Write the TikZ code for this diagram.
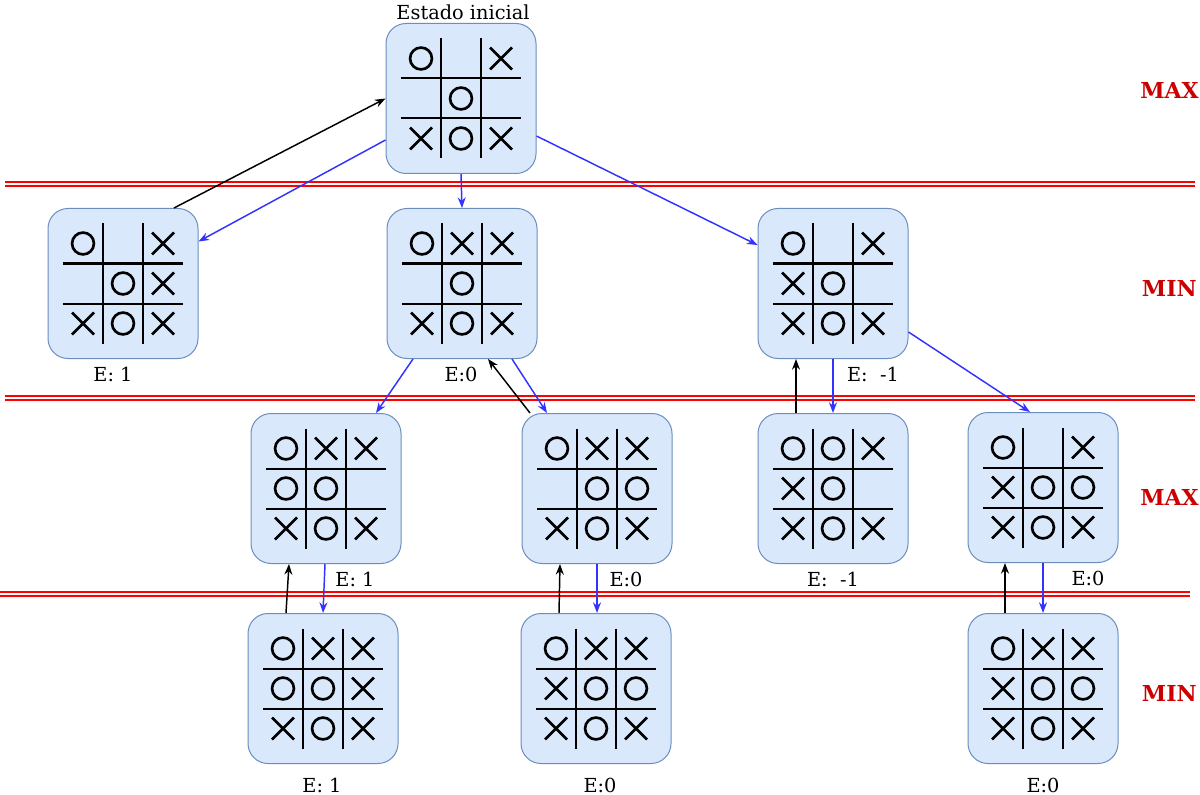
\documentclass[tikz,border=0pt]{standalone}
\usepackage{fontspec}
\setmainfont{DejaVu Serif}
\usetikzlibrary{arrows.meta}

\definecolor{cajafondo}{HTML}{DAE8FC}
\definecolor{cajaborde}{HTML}{6C8EBF}
\definecolor{azulflecha}{HTML}{3333FF}
\definecolor{rojonivel}{HTML}{CC0000}
\definecolor{rojolinea}{HTML}{FF0000}

% tablero: nodo, casillas con O, casillas con X (columna/fila desde 0)
\newcommand{\tablero}[3]{%
\begin{scope}[shift={(#1.center)}]
\draw[rejilla] (-20,-60) -- (-20,60);
\draw[rejilla] (20,-60) -- (20,60);
\draw[rejilla] (-60,-20) -- (60,-20);
\draw[rejilla] (-60,20) -- (60,20);
\foreach \c/\r in {#2}
\draw[ficha] (40*\c-40,40*\r-40) circle (8.2pt);
\foreach \c/\r in {#3}
\draw[ficha] (40*\c-51,40*\r-51) -- (40*\c-29,40*\r-29) (40*\c-51,40*\r-29) -- (40*\c-29,40*\r-51);
\end{scope}}

\begin{document}
\begin{tikzpicture}[x=0.75pt,y=-0.75pt,
  caja/.style={draw=cajaborde,fill=cajafondo,line width=0.75pt,rounded corners=15pt,minimum width=112.5pt,minimum height=112.5pt,inner sep=0pt},
  rejilla/.style={line width=1.5pt},
  ficha/.style={line width=2pt},
  etiqueta/.style={font=\fontsize{14.5}{17}\selectfont,inner sep=0pt},
  nivel/.style={font=\fontsize{16.5}{19}\selectfont\bfseries,text=rojonivel,anchor=east,inner sep=0pt},
  flechan/.style={line width=1.1pt,-{Stealth[length=8pt,width=6pt]}},
  flechaa/.style={flechan,color=azulflecha},
  separa/.style={rojolinea,line width=1.5pt}]
\useasboundingbox (0,0) rectangle (1200,795);

% separadores de nivel
\draw[separa] (5,182) -- (1195,182);
\draw[separa] (5,186.5) -- (1195,186.5);
\draw[separa] (5,395.5) -- (1195,395.5);
\draw[separa] (5,400) -- (1195,400);
\draw[separa] (0,591.5) -- (1190,591.5);
\draw[separa] (0,595.5) -- (1190,595.5);

% estados
\node[caja] (S) at (461,98.5) {};
\node[caja] (A) at (123,283.5) {};
\node[caja] (B) at (462,283.5) {};
\node[caja] (C) at (833,283.5) {};
\node[caja] (D) at (326,488.5) {};
\node[caja] (E) at (597,488.5) {};
\node[caja] (F) at (833,488.5) {};
\node[caja] (G) at (1043,487.5) {};
\node[caja] (H) at (323,688.5) {};
\node[caja] (I) at (596,688.5) {};
\node[caja] (J) at (1043,688.5) {};

\tablero{S}{0/0,1/1,1/2}{2/0,0/2,2/2}
\tablero{A}{0/0,1/1,1/2}{2/0,2/1,0/2,2/2}
\tablero{B}{0/0,1/1,1/2}{1/0,2/0,0/2,2/2}
\tablero{C}{0/0,1/1,1/2}{2/0,0/1,0/2,2/2}
\tablero{D}{0/0,0/1,1/1,1/2}{1/0,2/0,0/2,2/2}
\tablero{E}{0/0,1/1,2/1,1/2}{1/0,2/0,0/2,2/2}
\tablero{F}{0/0,1/0,1/1,1/2}{2/0,0/1,0/2,2/2}
\tablero{G}{0/0,1/1,2/1,1/2}{2/0,0/1,0/2,2/2}
\tablero{H}{0/0,0/1,1/1,1/2}{1/0,2/0,2/1,0/2,2/2}
\tablero{I}{0/0,1/1,2/1,1/2}{1/0,2/0,0/1,0/2,2/2}
\tablero{J}{0/0,1/1,2/1,1/2}{1/0,2/0,0/1,0/2,2/2}

% textos
\node[etiqueta] (tS) at (463,12) {Estado inicial};
\node[etiqueta] (eA) at (113,374) {E: 1};
\node[etiqueta] (eB) at (461,374) {E:0};
\node[etiqueta] (eC) at (873,374) {E:~~-1};
\node[etiqueta] (eD) at (355,579) {E: 1};
\node[etiqueta] (eE) at (626,579) {E:0};
\node[etiqueta] (eF) at (833,579) {E:~~-1};
\node[etiqueta] (eG) at (1088,578) {E:0};
\node[etiqueta] (eH) at (322,785) {E: 1};
\node[etiqueta] (eI) at (600,785) {E:0};
\node[etiqueta] (eJ) at (1043,785) {E:0};

\node[nivel] (n1) at (1199,90) {MAX};
\node[nivel] (n2) at (1197,288) {MIN};
\node[nivel] (n3) at (1199,497) {MAX};
\node[nivel] (n4) at (1197,693) {MIN};

% bajada (azul) y subida del valor (negro)
\draw[flechan] ([shift={(51,0)}]A.north) -- (S.west);
\draw[flechaa] ([shift={(0,41.5)}]S.west) -- ([shift={(0,-42)}]A.east);
\draw[flechaa] (S.south) -- (B.north);
\draw[flechaa] ([shift={(0,37.5)}]S.east) -- ([shift={(0,-38.5)}]C.west);
\draw[flechaa] ([shift={(-49,0)}]B.south) -- ([shift={(50,0)}]D.north);
\draw[flechaa] ([shift={(50,0)}]B.south) -- ([shift={(-50,0)}]E.north);
\draw[flechan] ([shift={(-67,0)}]E.north) -- ([shift={(26,0)}]B.south);
\draw[flechan] ([shift={(-37,0)}]F.north) -- ([shift={(-37,0)}]C.south);
\draw[flechaa] (C.south) -- (F.north);
\draw[flechaa] ([shift={(0,48.5)}]C.east) -- ([shift={(-13,0)}]G.north);
\draw[flechan] ([shift={(-37,0)}]H.north) -- ([shift={(-37,0)}]D.south);
\draw[flechaa] ([shift={(-1,0)}]D.south) -- (H.north);
\draw[flechan] ([shift={(-37,0)}]I.north) -- ([shift={(-37,0)}]E.south);
\draw[flechaa] (E.south) -- ([shift={(1,0)}]I.north);
\draw[flechan] ([shift={(-38,0)}]J.north) -- ([shift={(-38,0)}]G.south);
\draw[flechaa] (G.south) -- (J.north);
\end{tikzpicture}
\end{document}
